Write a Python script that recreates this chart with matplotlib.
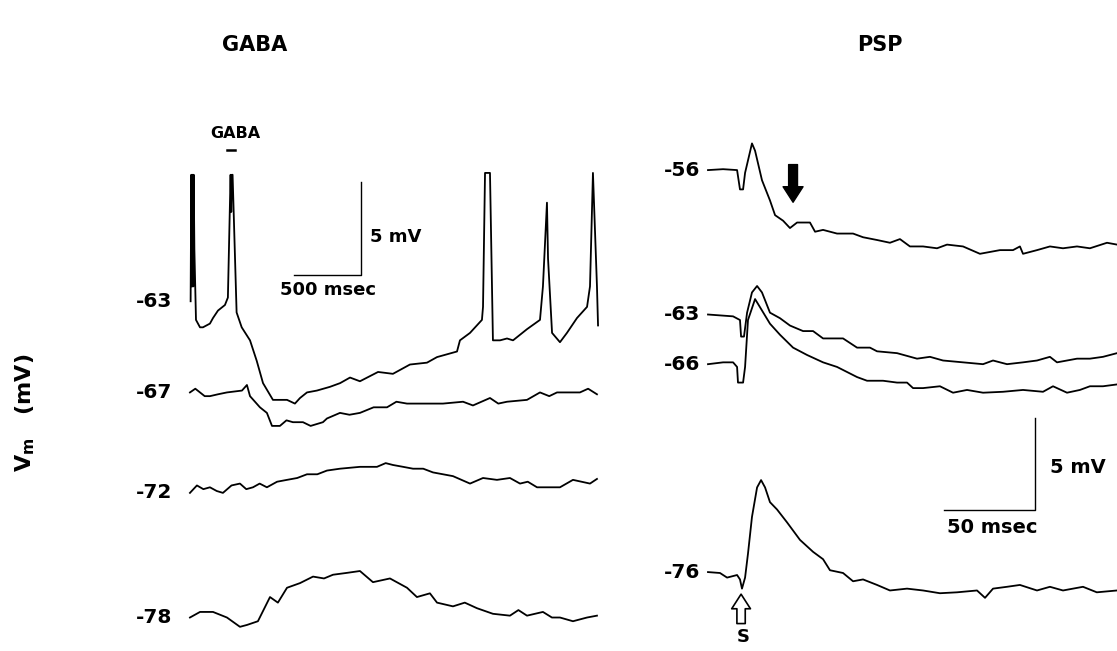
import matplotlib
matplotlib.use('Agg')
import matplotlib.pyplot as plt

# 글꼴 설정
plt.rcParams['font.family'] = ['DejaVu Sans']
plt.rcParams['font.weight'] = 'bold'
plt.rcParams['mathtext.default'] = 'bf'

# GABA 패널: 시간(msec), 막전위(mV)
gaba_labels = ['-63', '-67', '-72', '-78']

gaba_t1 = [5, 10, 13, 16, 19, 22, 25, 28, 33, 45, 75, 97, 149, 172, 209, 261, 283, 303,
           308, 313, 318, 348, 386, 448, 498, 545, 619, 671, 724, 783, 821, 873, 947, 1044,
           1120, 1194, 1268, 1403, 1514, 1641, 1768, 1843, 1992, 2014, 2089, 2178, 2186,
           2201, 2238, 2260, 2313, 2365, 2410, 2514, 2611, 2633, 2663, 2671, 2701, 2760,
           2812, 2887, 2962, 2984, 3006, 3036, 3044]
gaba_v1 = [-62.8, -56.0, -62.0, -56.0, -62.0, -56.0, -62.0, -56.0, -60.0, -63.8, -64.2,
           -64.2, -64.0, -63.7, -63.3, -63.0, -62.6, -56.0, -58.0, -56.0, -56.0, -63.4,
           -64.2, -64.9, -66.0, -67.2, -68.1, -68.1, -68.1, -68.3, -68.0, -67.7, -67.6,
           -67.4, -67.2, -66.9, -67.1, -66.6, -66.7, -66.2, -66.1, -65.8, -65.5, -64.9,
           -64.5, -63.8, -63.1, -55.9, -55.9, -64.9, -64.9, -64.8, -64.9, -64.3, -63.8,
           -62.0, -57.5, -60.5, -64.5, -65.0, -64.5, -63.7, -63.1, -62.0, -55.9, -62.0,
           -64.1]

gaba_t2 = [0, 40, 75, 110, 149, 209, 276, 388, 425, 448, 522, 574, 612, 671, 720, 768, 843,
           900, 992, 1022, 1119, 1190, 1268, 1370, 1470, 1540, 1619, 1768, 1887, 2037,
           2111, 2238, 2300, 2365, 2514, 2611, 2680, 2738, 2835, 2909, 2970, 3036]
gaba_v2 = [-67.7, -67.5, -67.7, -67.9, -67.9, -67.8, -67.7, -67.6, -67.3, -67.9, -68.5,
           -68.8, -69.5, -69.5, -69.2, -69.3, -69.3, -69.5, -69.3, -69.1, -68.8, -68.9,
           -68.8, -68.5, -68.5, -68.2, -68.3, -68.3, -68.3, -68.2, -68.4, -68.0, -68.3,
           -68.2, -68.1, -67.7, -67.9, -67.7, -67.7, -67.7, -67.5, -67.8]

gaba_t3 = [0, 52, 100, 149, 200, 246, 310, 373, 420, 470, 520, 574, 650, 724, 800, 873,
           950, 1022, 1119, 1268, 1395, 1460, 1514, 1590, 1664, 1740, 1813, 1962, 2089,
           2186, 2290, 2387, 2462, 2520, 2589, 2663, 2760, 2857, 2984, 3036]
gaba_v3 = [-73.1, -72.7, -72.9, -72.8, -73.0, -73.1, -72.7, -72.6, -72.9, -72.8, -72.6,
           -72.8, -72.5, -72.4, -72.3, -72.1, -72.1, -71.9, -71.8, -71.7, -71.7, -71.5,
           -71.6, -71.7, -71.8, -71.8, -72.0, -72.2, -72.6, -72.3, -72.4, -72.3, -72.6,
           -72.5, -72.8, -72.8, -72.8, -72.4, -72.6, -72.35]

gaba_t4 = [0, 75, 172, 276, 373, 425, 507, 597, 656, 724, 821, 918, 1000, 1067, 1171, 1268,
           1365, 1492, 1619, 1693, 1790, 1843, 1962, 2050, 2141, 2260, 2387, 2450, 2514,
           2633, 2700, 2760, 2857, 2962, 3036]
gaba_v4 = [-79.8, -79.5, -79.5, -79.8, -80.3, -80.2, -80.0, -78.7, -79.0, -78.2, -77.95,
           -77.6, -77.7, -77.5, -77.4, -77.3, -77.9, -77.7, -78.2, -78.7, -78.5, -79.0,
           -79.2, -79.0, -79.3, -79.6, -79.7, -79.4, -79.7, -79.5, -79.8, -79.8, -80.0,
           -79.8, -79.7]

# PSP 패널: 시간(msec), 막전위(mV)
psp_labels = ['-56', '-63', '-66', '-76']

psp_t1 = [0, 8.3, 16, 17.6, 19.3, 20.4, 24.2, 25.9, 29.7, 32.5, 34.1, 36.9, 41.3, 45.1, 49,
          52.3, 56.1, 58.9, 63.3, 71, 79.8, 85.3, 93, 100.1, 105.6, 111.1, 118.3, 126,
          131.5, 140.3, 149.6, 160.6, 167.8, 171.6, 173.3, 181, 188.1, 195.3, 203, 210.1,
          219.5, 225]
psp_v1 = [-55.95, -55.9, -55.95, -57.0, -57.0, -56.1, -54.5, -54.9, -56.5, -57.2, -57.6,
          -58.4, -58.7, -59.1, -58.8, -58.8, -58.8, -59.3, -59.2, -59.4, -59.4, -59.6,
          -59.75, -59.9, -59.7, -60.1, -60.1, -60.2, -60.0, -60.1, -60.5, -60.3, -60.3,
          -60.1, -60.5, -60.3, -60.1, -60.2, -60.1, -60.2, -59.9, -60.0]

psp_t2 = [0, 13.8, 17.6, 18.2, 19.8, 21.5, 24.2, 27, 29.7, 34.1, 39.6, 45.1, 52.3, 57.8,
          63.3, 74.3, 82, 89.1, 93, 104, 115, 122.1, 129.3, 140.3, 151.3, 156.8, 164.5,
          173.3, 181, 188.1, 192, 203, 210.1, 217.3, 225]
psp_v2 = [-63.8, -63.9, -64.1, -65.0, -65.0, -63.7, -62.6, -62.25, -62.6, -63.7, -64.0,
          -64.4, -64.7, -64.7, -65.1, -65.1, -65.6, -65.6, -65.8, -65.9, -66.2, -66.1,
          -66.3, -66.4, -66.5, -66.3, -66.5, -66.4, -66.3, -66.1, -66.4, -66.2, -66.2,
          -66.1, -65.9]

psp_t3 = [0, 8.3, 13.8, 16, 16.5, 19.3, 20.4, 22, 25.9, 28.6, 34.1, 39.6, 46.8, 54.5, 63.3,
          71, 82, 87.5, 96.3, 104, 109.5, 112.8, 118.3, 127.6, 134.8, 142.5, 151.3, 162.3,
          173.3, 184.3, 189.8, 197.5, 204.6, 210.1, 217.3, 225]
psp_v3 = [-66.5, -66.4, -66.4, -66.65, -67.5, -67.5, -66.65, -64.1, -62.96, -63.4, -64.3,
          -64.9, -65.6, -66.0, -66.4, -66.65, -67.2, -67.4, -67.4, -67.5, -67.5, -67.8,
          -67.8, -67.7, -68.05, -67.9, -68.05, -68.0, -67.9, -68.0, -67.7, -68.05, -67.9,
          -67.7, -67.7, -67.6]

psp_t4 = [0, 6.6, 10.5, 16, 17.6, 18.7, 20.4, 22, 24.2, 27, 29.2, 31.4, 34.1, 38, 43.5,
          50.6, 57.8, 63.3, 67.1, 74.3, 79.8, 85.3, 93, 100.1, 109.5, 118.3, 127.6, 137,
          148, 152.4, 156.8, 164.5, 171.6, 181, 188.1, 195.3, 206.3, 213.9, 225]
psp_v4 = [-77.8, -77.85, -78.1, -77.96, -78.2, -78.7, -78.1, -76.8, -74.8, -73.2, -72.8,
          -73.2, -74.0, -74.4, -75.1, -76.05, -76.7, -77.1, -77.7, -77.85, -78.3, -78.2,
          -78.5, -78.8, -78.7, -78.8, -78.95, -78.9, -78.8, -79.2, -78.7, -78.6, -78.5,
          -78.8, -78.6, -78.8, -78.6, -78.9, -78.8]

gaba_traces = [(gaba_t1, gaba_v1), (gaba_t2, gaba_v2), (gaba_t3, gaba_v3), (gaba_t4, gaba_v4)]
psp_traces = [(psp_t1, psp_v1), (psp_t2, psp_v2), (psp_t3, psp_v3), (psp_t4, psp_v4)]

W, H = 1117, 651
fig = plt.figure(figsize=(W / 100, H / 100), dpi=100)

# 왼쪽 패널 (GABA)
ax1 = fig.add_axes([150 / W, 0, 490 / W, 551 / H])
ax1.set_xlim(-298, 3357)
ax1.set_ylim(-81.60, -51.98)
ax1.axis('off')
for (t, v), lab in zip(gaba_traces, gaba_labels):
    ax1.plot(t, v, color='black', linewidth=1.3)
    ax1.text(-134, v[0], lab, ha='right', va='center', fontsize=14.5)

# 스케일 바
ax1.plot([776, 1276, 1276], [-61.39, -61.39, -56.39], color='black', linewidth=1.0)
ax1.text(1343, -59.34, '5 mV', ha='left', va='center', fontsize=13)
ax1.text(1029, -62.19, '500 msec', ha='center', va='center', fontsize=13)

# GABA 투여 표시
ax1.text(336, -53.8, 'GABA', ha='center', va='center', fontsize=11.5)
ax1.plot([276, 336], [-54.67, -54.67], color='black', linewidth=1.8)

# 오른쪽 패널 (PSP)
ax2 = fig.add_axes([660 / W, 0, 457 / W, 551 / H])
ax2.set_xlim(-26.4, 225)
ax2.set_ylim(-82.09, -52.14)
ax2.axis('off')
for (t, v), lab in zip(psp_traces, psp_labels):
    ax2.plot(t, v, color='black', linewidth=1.3)
    ax2.text(-4.4, v[0], lab, ha='right', va='center', fontsize=14.5)

ax2.plot([129.9, 179.9, 179.9], [-74.42, -74.42, -69.42], color='black', linewidth=1.0)
ax2.text(188.1, -72.14, '5 mV', ha='left', va='center', fontsize=14)
ax2.text(156.2, -75.35, '50 msec', ha='center', va='center', fontsize=14)

# 화살표
ax2.annotate('', xy=(46.8, -57.85), xytext=(46.8, -55.5),
             arrowprops=dict(arrowstyle='simple,head_length=0.7,head_width=0.9,tail_width=0.4',
                             fc='black', ec='black', mutation_scale=16))
ax2.annotate('', xy=(18.2, -78.85), xytext=(18.2, -80.75),
             arrowprops=dict(arrowstyle='simple,head_length=0.7,head_width=0.9,tail_width=0.4',
                             fc='white', ec='black', lw=1.2, mutation_scale=15))
ax2.text(19.3, -81.35, 'S', ha='center', va='center', fontsize=13)

# 제목과 축 이름
fig.text(255 / W, 1 - 45 / H, 'GABA', ha='center', va='center', fontsize=15)
fig.text(880 / W, 1 - 45 / H, 'PSP', ha='center', va='center', fontsize=15)
fig.text(25 / W, 1 - 413 / H, r'$V_m$   (mV)', rotation=90, ha='center', va='center',
         fontsize=16)

fig.savefig('out.png', dpi=100)
